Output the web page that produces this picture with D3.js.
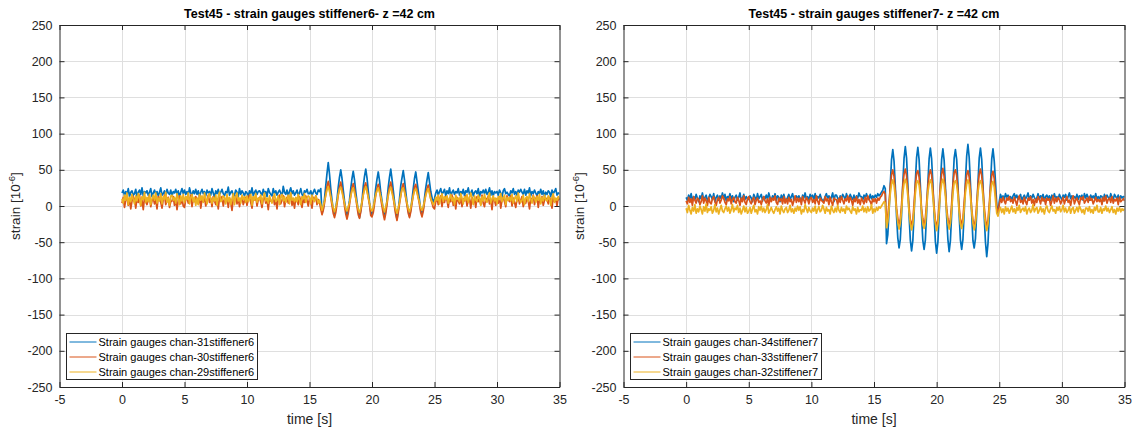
<!DOCTYPE html>
<html><head><meta charset="utf-8">
<script src="https://cdn.jsdelivr.net/npm/d3@7"></script>
<style>
body{margin:0;background:#fff}
svg{display:block}
text{font-family:"Liberation Sans",Arial,Helvetica,sans-serif}
</style>
</head><body>
<svg id="chart" width="1138" height="429"></svg>
<script>
// ---------------- DATA ----------------
const dt = 0.1; // sample spacing in seconds, first sample at t = 0
const xTicks = [-5, 0, 5, 10, 15, 20, 25, 30, 35];
const yTicks = [-250, -200, -150, -100, -50, 0, 50, 100, 150, 200, 250];
const titles = ["Test45 - strain gauges stiffener6- z =42 cm", "Test45 - strain gauges stiffener7- z =42 cm"];
const legend6 = ["Strain gauges chan-31stiffener6", "Strain gauges chan-30stiffener6", "Strain gauges chan-29stiffener6"];
const legend7 = ["Strain gauges chan-34stiffener7", "Strain gauges chan-33stiffener7", "Strain gauges chan-32stiffener7"];
const colors = ["#0072BD", "#D95319", "#EDB120"];

const chan31 = [
18,22,14,20,16,24,13,19,21,15,
17,23,12,19,22,16,25,14,20,18,
21,15,19,24,13,18,22,16,20,14,
19,25,15,17,21,13,23,18,16,22,
14,20,18,23,16,21,12,19,24,17,
22,16,20,14,25,18,15,21,17,23,
16,21,13,19,23,17,20,14,22,18,
20,15,24,18,12,21,17,23,16,19,
23,17,14,20,18,26,15,19,21,13,
15,22,19,13,24,16,21,18,14,20,
18,13,21,17,25,14,19,22,16,20,
21,18,15,23,17,20,13,24,19,16,
14,24,17,21,15,19,22,18,13,27,
19,16,22,14,20,25,17,21,15,18,
22,15,18,24,16,13,21,19,23,17,
17,21,14,19,23,18,16,22,20,24,
-10,-4,10,28,45,60,44,24,8,-6,
-12,-3,9,26,40,50,38,22,7,-5,
-14,-5,8,24,38,48,36,20,6,-7,
-16,-6,7,27,41,51,39,21,5,-8,
-13,-4,9,25,37,47,35,19,7,-6,
-15,-7,8,26,40,51,37,22,6,-9,
-18,-6,10,28,39,49,36,20,5,-7,
-14,-5,9,24,38,47,34,21,8,-6,
-12,-4,11,25,36,46,33,20,12,4,
10,18,22,15,20,24,16,19,23,14,
21,17,25,13,19,22,16,20,18,24,
15,20,17,23,14,21,19,25,16,18,
22,14,19,21,17,24,13,20,18,22,
17,23,16,19,25,15,21,14,20,18,
20,15,22,18,13,21,24,17,19,16,
14,21,18,24,16,20,15,22,19,23,
19,16,23,15,21,18,25,14,20,17,
22,18,14,20,17,23,16,21,13,19,
16,21,19,13,22,17,20,24,15,18,
17];

const chan30 = [
4,12,-2,8,14,1,10,-4,7,13,
9,-3,11,5,15,0,8,-5,12,6,
2,10,14,-1,7,11,3,9,-4,13,
11,5,-3,9,15,2,8,12,-2,6,
7,13,1,10,-5,8,14,3,11,0,
-2,9,12,4,8,15,-1,10,6,13,
10,3,14,-3,9,6,12,0,8,15,
5,11,-1,13,7,2,10,-4,12,8,
13,0,9,6,14,-2,11,5,-6,10,
8,14,3,11,-1,9,13,2,7,12,
1,10,15,5,-3,12,8,14,0,9,
12,6,-2,10,13,4,9,-5,11,7,
6,13,2,9,-4,11,15,3,8,14,
-1,8,12,4,10,16,1,9,-3,11,
9,2,13,7,-2,10,5,14,8,0,
11,6,-3,12,8,14,2,9,5,-4,
-12,-6,4,16,27,34,25,12,1,-10,
-16,-9,3,15,26,33,24,13,0,-11,
-18,-10,2,14,25,31,23,11,-1,-12,
-17,-8,4,16,27,32,22,12,2,-13,
-15,-9,3,15,24,30,23,10,0,-11,
-19,-10,2,17,26,33,24,12,-1,-12,
-20,-9,3,14,25,31,22,11,1,-10,
-16,-8,4,15,26,30,21,12,2,-9,
-15,-7,5,16,24,29,20,10,4,-2,
-4,6,12,2,9,14,-1,10,5,13,
8,-2,11,6,15,1,9,-4,12,7,
3,13,-1,10,7,14,0,8,11,-3,
12,5,9,-2,13,6,10,2,15,4,
-1,11,7,14,3,9,-5,12,8,1,
10,4,13,-3,8,12,6,-1,14,9,
6,14,0,11,5,-2,10,13,3,8,
13,-1,9,4,12,7,-4,11,6,15,
2,10,14,-2,9,5,13,1,8,11,
9,3,12,7,-3,14,6,10,0,12,
8];

const chan29 = [
10,4,15,8,18,2,12,6,16,9,
3,14,7,17,11,1,13,9,19,5,
12,6,16,2,10,15,8,18,4,11,
7,17,3,13,9,19,5,11,1,14,
15,8,12,4,17,10,2,14,7,16,
5,13,9,18,3,11,16,6,12,1,
11,2,16,8,14,5,18,10,3,13,
17,9,4,12,7,15,1,13,19,6,
8,14,11,3,16,6,12,2,10,17,
2,12,18,7,11,4,15,9,13,5,
14,6,10,16,1,13,8,17,5,11,
9,15,3,12,18,7,11,4,14,8,
4,11,17,6,9,14,2,12,16,7,
13,5,10,15,3,18,8,11,6,12,
6,16,8,2,13,10,17,5,11,14,
12,3,15,9,6,14,10,4,8,2,
-6,0,7,15,22,27,20,13,5,-3,
-8,-2,6,16,23,26,19,12,4,-4,
-7,-1,5,14,21,25,18,11,3,-5,
-9,-3,6,15,22,27,20,12,4,-4,
-7,-2,7,16,21,25,19,13,5,-3,
-8,-1,6,14,22,26,18,11,3,-5,
-10,-3,5,15,23,25,19,12,4,-4,
-8,-2,6,14,21,24,18,11,5,-3,
-6,-1,7,15,20,24,17,10,6,2,
5,12,8,15,3,11,17,6,13,9,
14,4,10,16,7,12,2,15,9,11,
6,17,11,3,13,8,16,5,12,18,
10,2,14,9,6,15,11,1,13,7,
16,8,5,12,18,4,10,14,7,11,
3,13,9,17,6,11,15,2,12,8,
12,7,16,4,10,14,6,18,9,5,
8,15,2,11,13,6,17,10,4,14,
11,5,13,8,16,3,12,7,15,9,
7,14,10,1,12,17,5,11,8,13,
9];

const chan34 = [
12,8,15,10,17,7,13,9,16,11,
6,14,10,18,8,12,15,7,11,16,
13,9,17,6,12,15,8,14,10,18,
10,16,7,13,11,17,9,14,6,12,
15,8,12,18,7,11,16,9,13,10,
9,14,11,6,16,12,8,17,10,13,
16,7,13,10,15,9,18,11,8,14,
11,17,8,14,12,6,15,10,16,9,
7,12,16,9,13,17,8,11,14,10,
14,10,6,15,11,18,9,13,7,16,
12,15,9,17,8,13,11,16,10,7,
8,13,17,10,14,9,12,18,6,15,
15,11,7,14,10,16,13,8,17,12,
10,16,12,9,15,7,14,11,18,13,
13,8,15,11,17,12,9,16,10,14,
11,15,12,17,14,16,19,22,28,24,
-52,-40,-8,30,64,78,62,28,-14,-44,
-58,-46,-12,31,66,82,66,30,-13,-47,
-62,-48,-11,33,67,81,64,29,-15,-48,
-60,-47,-10,32,65,80,65,31,-12,-49,
-65,-50,-13,30,64,79,63,28,-14,-46,
-63,-48,-11,31,66,78,64,30,-13,-47,
-60,-46,-9,34,69,85,67,31,-12,-48,
-58,-45,-10,32,66,80,64,29,-14,-50,
-70,-52,-14,30,65,79,62,33,2,-12,
6,16,11,14,9,17,12,15,10,13,
8,14,17,11,15,9,13,16,7,12,
15,10,13,18,8,14,11,16,12,9,
11,17,9,14,12,16,7,13,15,10,
14,8,15,11,17,10,13,9,16,12,
9,15,12,16,8,13,18,10,14,11,
13,10,16,9,14,12,15,8,17,11,
16,12,8,15,11,14,10,17,9,13,
10,14,13,7,16,11,15,12,9,17,
12,9,16,13,10,15,8,14,11,13,
12];

const chan33 = [
7,3,12,5,10,1,13,8,4,11,
9,2,6,14,4,11,7,1,12,5,
3,10,13,6,1,9,12,4,8,14,
11,5,2,10,7,13,3,9,12,6,
4,12,8,1,11,6,14,5,2,10,
13,6,3,9,12,2,8,11,5,7,
2,9,13,7,4,10,1,12,6,11,
8,14,5,2,11,7,10,3,13,4,
10,3,12,6,9,1,7,14,5,11,
6,11,2,13,8,4,12,9,3,10,
12,5,9,3,14,7,2,11,8,6,
4,13,7,10,2,12,6,1,11,9,
9,2,11,5,13,8,3,10,7,14,
5,12,8,1,10,6,13,4,9,2,
11,7,3,12,5,14,9,6,2,10,
6,10,4,11,8,12,14,18,20,16,
-22,-14,4,27,43,50,41,21,-3,-17,
-26,-18,2,28,44,51,42,22,-2,-19,
-28,-19,3,29,45,49,40,20,-4,-18,
-27,-17,4,27,43,50,43,23,-1,-20,
-29,-20,2,28,44,52,41,21,-3,-18,
-27,-18,3,29,46,50,42,22,-2,-19,
-26,-17,5,28,43,49,40,21,-4,-20,
-28,-19,3,27,44,51,42,23,-1,-18,
-30,-20,2,26,42,48,38,18,-4,-8,
2,10,5,12,7,3,11,8,13,6,
9,4,12,7,1,10,14,5,8,3,
12,6,2,11,8,13,4,9,1,10,
5,13,9,3,12,7,10,2,11,8,
10,1,7,14,4,11,6,12,9,3,
7,12,3,9,13,5,8,1,10,14,
3,8,11,6,2,12,9,13,4,7,
11,5,13,8,10,3,7,12,6,9,
6,10,2,12,7,14,4,9,11,5,
13,4,9,7,11,2,12,6,8,10,
7];

const chan32 = [
-3,-9,1,-6,-11,-2,-7,2,-10,-4,
-8,0,-5,-11,-1,-7,3,-9,-4,-6,
-1,-10,-6,2,-8,-3,-11,-5,1,-7,
-9,-4,0,-7,-2,-10,-5,2,-8,-3,
-5,1,-9,-3,-11,-6,0,-8,-2,-10,
-7,-2,-10,-4,1,-8,-5,-11,-1,-6,
0,-8,-3,-9,-5,2,-10,-6,-2,-7,
-10,-5,-1,-7,-3,-11,0,-6,-9,-4,
-2,-9,-6,1,-8,-4,-10,-3,-7,0,
-6,-1,-11,-5,-8,2,-4,-9,-2,-7,
-9,-3,-7,0,-10,-5,-1,-8,-6,1,
-4,-10,-2,-7,-5,-11,0,-6,-9,-3,
-8,1,-6,-9,-2,-7,-4,-10,0,-5,
-3,-7,-10,-1,-6,-4,-11,-2,-8,-5,
-6,0,-8,-3,-9,-1,-7,-5,2,-10,
-4,-8,-2,-6,-1,-3,0,3,6,4,
-30,-22,-4,17,30,36,29,13,-7,-23,
-32,-24,-6,18,31,37,30,14,-8,-24,
-33,-25,-5,17,32,35,29,15,-9,-25,
-31,-23,-4,19,30,36,31,13,-7,-24,
-34,-25,-6,18,31,37,30,14,-8,-23,
-32,-24,-5,17,32,35,29,15,-9,-25,
-31,-23,-4,18,30,36,30,13,-7,-24,
-33,-24,-6,19,31,35,29,14,-8,-25,
-34,-25,-5,17,30,34,26,8,-10,-14,
-6,-2,-9,-4,-11,-1,-7,-3,-10,-5,
0,-8,-4,-10,-2,-6,1,-9,-5,-3,
-7,-1,-11,-5,-3,-9,-6,2,-8,-4,
-2,-10,-6,-1,-8,-4,-11,-3,0,-7,
-9,-4,0,-7,-5,-10,-2,-6,-1,-8,
-5,1,-8,-3,-9,-6,-1,-10,-4,-2,
-10,-6,-2,-8,0,-4,-9,-5,-11,-3,
-3,-7,-1,-9,-5,-10,-2,-6,1,-8,
-8,-2,-10,-4,-6,0,-7,-3,-9,-5,
-1,-9,-5,-11,-3,-7,-2,-8,-4,-6,
-4];

// ---------------- DRAWING ----------------
const svg = d3.select("#chart");
svg.append("rect").attr("width", 1138).attr("height", 429).attr("fill", "#fff");

const TOP = 25, BOTTOM = 387;
const panels = [
  {x0: 59.5, x1: 559.5, title: titles[0], labels: legend6, series: [chan31, chan30, chan29], legX: 66},
  {x0: 623.5, x1: 1124.5, title: titles[1], labels: legend7, series: [chan34, chan33, chan32], legX: 630}
];
const ink = "#262626";
const fmt = d => String(d); // plain hyphen-minus like MATLAB

panels.forEach(p => {
  const x = d3.scaleLinear().domain([-5, 35]).range([p.x0, p.x1]);
  const y = d3.scaleLinear().domain([-250, 250]).range([BOTTOM, TOP]);
  const g = svg.append("g");

  // grid
  g.append("g").selectAll("line").data(xTicks.slice(1, -1)).join("line")
    .attr("x1", d => Math.round(x(d)) + 0.5).attr("x2", d => Math.round(x(d)) + 0.5)
    .attr("y1", TOP).attr("y2", BOTTOM).attr("stroke", "#dfdfdf").attr("stroke-width", 1);
  g.append("g").selectAll("line").data(yTicks.slice(1, -1)).join("line")
    .attr("y1", d => Math.round(y(d)) + 0.5).attr("y2", d => Math.round(y(d)) + 0.5)
    .attr("x1", p.x0).attr("x2", p.x1).attr("stroke", "#dfdfdf").attr("stroke-width", 1);

  // data
  const line = d3.line().x((d, i) => x(i * dt)).y(d => y(d));
  const clipId = "clip" + Math.round(p.x0);
  svg.append("clipPath").attr("id", clipId).append("rect")
    .attr("x", p.x0).attr("y", TOP).attr("width", p.x1 - p.x0).attr("height", BOTTOM - TOP);
  p.series.forEach((s, k) => {
    g.append("path").datum(s).attr("d", line).attr("fill", "none")
      .attr("stroke", colors[k]).attr("stroke-width", 1.7).attr("stroke-linejoin", "round")
      .attr("clip-path", `url(#${clipId})`);
  });

  // axes
  const ax = g.append("g").attr("transform", `translate(0,${BOTTOM})`)
    .call(d3.axisBottom(x).tickValues(xTicks).tickFormat(fmt).tickSize(-5).tickPadding(8).tickSizeOuter(0));
  const axTop = g.append("g").attr("transform", `translate(0,${TOP})`)
    .call(d3.axisTop(x).tickValues(xTicks).tickSize(-5).tickFormat("").tickSizeOuter(0));
  const ay = g.append("g").attr("transform", `translate(${p.x0},0)`)
    .call(d3.axisLeft(y).tickValues(yTicks).tickFormat(fmt).tickSize(-5).tickPadding(7).tickSizeOuter(0));
  const ayR = g.append("g").attr("transform", `translate(${p.x1},0)`)
    .call(d3.axisRight(y).tickValues(yTicks).tickSize(-5).tickFormat("").tickSizeOuter(0));
  [ax, axTop, ay, ayR].forEach(a => {
    a.select(".domain").attr("stroke", ink).attr("stroke-width", 1);
    a.selectAll(".tick line").attr("stroke", ink);
    a.selectAll(".tick text").attr("fill", ink).attr("font-size", 12.5)
      .attr("font-family", '"Liberation Sans",Arial,sans-serif');
  });

  // title
  g.append("text").attr("x", (p.x0 + p.x1) / 2).attr("y", 18).attr("text-anchor", "middle")
    .attr("font-weight", "bold").attr("font-size", 12.5).attr("fill", "#000").text(p.title);

  // x label
  g.append("text").attr("x", (p.x0 + p.x1) / 2).attr("y", 424).attr("text-anchor", "middle")
    .attr("font-size", 14).attr("fill", ink).text("time [s]");

  // y label
  const yl = g.append("text").attr("transform", `translate(${p.x0 - 40},${(TOP + BOTTOM) / 2}) rotate(-90)`)
    .attr("text-anchor", "middle").attr("font-size", 13.5).attr("fill", ink);
  yl.append("tspan").text("strain [10");
  yl.append("tspan").attr("dy", -5).attr("font-size", 9.5).text("-6");
  yl.append("tspan").attr("dy", 5).text("]");

  // legend
  const lg = g.append("g").attr("transform", `translate(${p.legX + 0.5},333.5)`);
  lg.append("rect").attr("width", 191).attr("height", 46).attr("fill", "#fff")
    .attr("stroke", ink).attr("stroke-width", 1);
  p.labels.forEach((lab, k) => {
    const yy = 8.5 + k * 15;
    lg.append("line").attr("x1", 3).attr("x2", 30).attr("y1", yy).attr("y2", yy)
      .attr("stroke", colors[k]).attr("stroke-width", 1);
    lg.append("text").attr("x", 32).attr("y", yy + 4).attr("font-size", 11).attr("fill", "#000").text(lab);
  });
});
</script>
</body></html>
